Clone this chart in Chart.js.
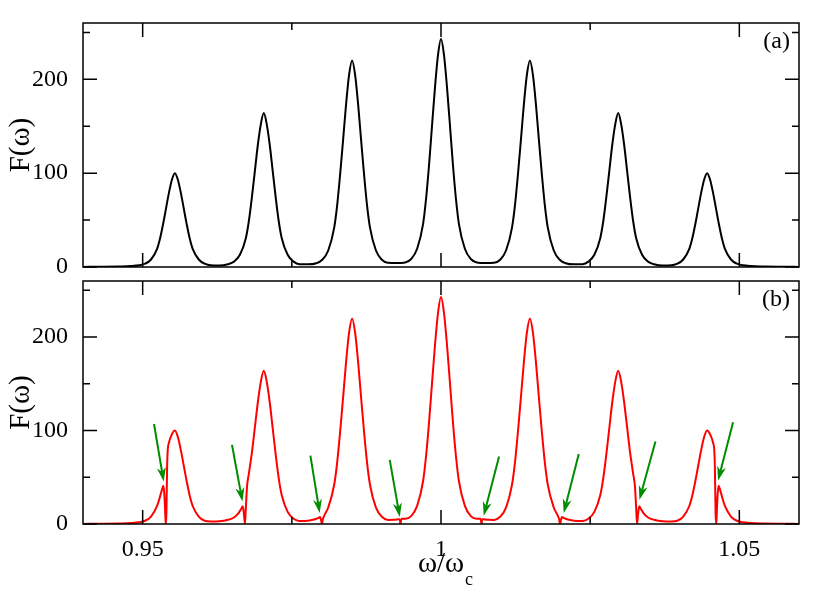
<!DOCTYPE html>
<html>
<head>
<meta charset="utf-8">
<script src="https://cdn.jsdelivr.net/npm/chart.js@4.4.0/dist/chart.umd.min.js"></script>
<style>
  body { margin: 0; background: #fff; }
  #wrap { position: relative; width: 830px; height: 597px; }
  #wrap canvas { position: absolute; left: 0; top: 0; }
</style>
</head>
<body>
<div id="wrap">
  <canvas id="panelA" width="830" height="597"></canvas>
  <canvas id="panelB" width="830" height="597"></canvas>
</div>
<script>
// panel (a): plain transmission, black curve
const omegaA = [
  0.940, 0.943, 0.946, 0.948,
  0.9494, 0.9504, 0.9514, 0.9524, 0.9529, 0.9534, 0.9539, 0.9544, 0.9549, 0.9554, 0.9559, 0.9564, 0.9569, 0.9574, 0.9579, 0.9584, 0.9594, 0.9604, 0.9614, 0.96285,
  0.9643, 0.9653, 0.9663, 0.9673, 0.9678, 0.9683, 0.9688, 0.9693, 0.9698, 0.9703, 0.9708, 0.9713, 0.9718, 0.9723, 0.9728, 0.9733, 0.9743, 0.9753, 0.9763, 0.9777,
  0.9791, 0.9801, 0.9811, 0.9821, 0.9826, 0.9831, 0.9836, 0.9841, 0.9846, 0.9851, 0.9856, 0.9861, 0.9866, 0.9871, 0.9876, 0.9881, 0.9891, 0.9901, 0.9911, 0.99255,
  0.9940, 0.9950, 0.9960, 0.9970, 0.9975, 0.9980, 0.9985, 0.9990, 0.9995, 1.0000, 1.0005, 1.0010, 1.0015, 1.0020, 1.0025, 1.0030, 1.0040, 1.0050, 1.0060, 1.00745,
  1.0089, 1.0099, 1.0109, 1.0119, 1.0124, 1.0129, 1.0134, 1.0139, 1.0144, 1.0149, 1.0154, 1.0159, 1.0164, 1.0169, 1.0174, 1.0179, 1.0189, 1.0199, 1.0209, 1.0223,
  1.0237, 1.0247, 1.0257, 1.0267, 1.0272, 1.0277, 1.0282, 1.0287, 1.0292, 1.0297, 1.0302, 1.0307, 1.0312, 1.0317, 1.0322, 1.0327, 1.0337, 1.0347, 1.0357, 1.03715,
  1.0386, 1.0396, 1.0406, 1.0416, 1.0421, 1.0426, 1.0431, 1.0436, 1.0441, 1.0446, 1.0451, 1.0456, 1.0461, 1.0466, 1.0471, 1.0476, 1.0486, 1.0496, 1.0506,
  1.052, 1.054, 1.057, 1.060
];
const fA = [
  0.1, 0.3, 0.6, 1.0,
  1.8, 3.5, 8, 19, 30, 45, 62, 79, 93, 100, 93, 79, 62, 45, 30, 19, 8, 3.5, 1.8, 1.6,
  3.0, 5.7, 13, 31, 49, 74, 102, 130, 152, 164, 152, 130, 102, 74, 49, 31, 13, 5.7, 3.0, 2.8,
  4.0, 7.7, 17.6, 42, 66, 99, 136, 174, 205, 220, 205, 174, 136, 99, 66, 42, 17.6, 7.7, 4.4, 4.2,
  4.8, 8.5, 19.4, 46, 73, 109, 151, 192, 226, 243, 226, 192, 151, 109, 73, 46, 19.4, 8.5, 4.8, 4.2,
  4.4, 7.7, 17.6, 42, 66, 99, 136, 174, 205, 220, 205, 174, 136, 99, 66, 42, 17.6, 7.7, 4.0, 2.8,
  3.0, 5.7, 13, 31, 49, 74, 102, 130, 152, 164, 152, 130, 102, 74, 49, 31, 13, 5.7, 3.0, 1.6,
  1.8, 3.5, 8, 19, 30, 45, 62, 79, 93, 100, 93, 79, 62, 45, 30, 19, 8, 3.5, 1.8,
  1.0, 0.6, 0.3, 0.1
];

// panel (b): red curve with the sharp dips
const omegaB = [
  0.940, 0.943, 0.946, 0.948,
  0.9494, 0.9504, 0.9514, 0.9524, 0.9529, 0.9532, 0.95348, 0.95365, 0.9538, 0.95388, 0.95398, 0.9541, 0.9542, 0.9544, 0.9549, 0.9554,
  0.9559, 0.9564, 0.9569, 0.9574, 0.9579, 0.9584, 0.9594, 0.9604, 0.9614, 0.96285,
  0.9643, 0.9653, 0.9661, 0.9665, 0.96678, 0.96698, 0.96714, 0.9673, 0.96749, 0.9678, 0.9683, 0.9688, 0.9693, 0.9698, 0.9703,
  0.9708, 0.9713, 0.9718, 0.9723, 0.9728, 0.9733, 0.9743, 0.9753, 0.9763, 0.9777,
  0.9787, 0.9794, 0.97975, 0.9799, 0.98006, 0.9802, 0.9804, 0.9811, 0.9821, 0.9826, 0.9831, 0.9836, 0.9841, 0.9846, 0.9851,
  0.9856, 0.9861, 0.9866, 0.9871, 0.9876, 0.9881, 0.9891, 0.9901, 0.9911, 0.9920, 0.9928, 0.99305, 0.99315, 0.9932, 0.99327, 0.9934,
  0.9940, 0.9950, 0.9960, 0.9970, 0.9975, 0.9980, 0.9985, 0.9990, 0.9995, 1.0000, 1.0005, 1.0010, 1.0015, 1.0020, 1.0025, 1.0030, 1.0040, 1.0050, 1.0060,
  1.0066, 1.00673, 1.0068, 1.00685, 1.00695, 1.0072, 1.0080, 1.0089, 1.0099, 1.0109, 1.0119, 1.0124, 1.0129, 1.0134, 1.0139, 1.0144, 1.0149,
  1.0154, 1.0159, 1.0164, 1.0169, 1.0174, 1.0179, 1.0189, 1.0196, 1.0198, 1.01994, 1.0201, 1.02025, 1.0206, 1.0213, 1.0223,
  1.0237, 1.0247, 1.0257, 1.0267, 1.0272, 1.0277, 1.0282, 1.0287, 1.0292, 1.0297, 1.0302, 1.0307, 1.0312, 1.0317, 1.0322, 1.03251, 1.0327, 1.03286, 1.03302, 1.03322,
  1.0335, 1.0339, 1.0347, 1.0357, 1.03715,
  1.0386, 1.0396, 1.0406, 1.0416, 1.0421, 1.0426, 1.0431, 1.0436, 1.0441, 1.0446, 1.0451, 1.0456, 1.0458, 1.0459, 1.04602, 1.04612, 1.0462, 1.04635, 1.04652, 1.0468,
  1.0471, 1.0476, 1.0486, 1.0496, 1.0506, 1.052, 1.054, 1.057, 1.060
];
const fB = [
  0.1, 0.3, 0.6, 1.0,
  1.8, 3.5, 8, 19, 29, 36, 41, 30, 9, 0, 12, 62, 79, 87, 96, 100,
  93, 79, 62, 45, 30, 19, 8, 3.5, 2.8, 3.0,
  4.5, 7, 12, 16, 19, 10, 0, 18, 40, 54, 76, 103, 130, 152, 164,
  152, 130, 102, 74, 49, 31, 13, 5.7, 3.3, 3.6,
  4.8, 6.2, 7.5, 4, 0, 5, 8.5, 17.6, 42, 66, 99, 136, 174, 205, 220,
  205, 174, 136, 99, 66, 42, 17.6, 7.7, 4.4, 4.5, 5.0, 5.2, 2.5, 0, 2.5, 5.5,
  5.6, 8.5, 19.4, 46, 73, 109, 151, 192, 226, 243, 226, 192, 151, 109, 73, 46, 19.4, 8.5, 5.6,
  5.5, 2.5, 0, 2.5, 5.2, 5.0, 4.5, 4.4, 7.7, 17.6, 42, 66, 99, 136, 174, 205, 220,
  205, 174, 136, 99, 66, 42, 17.6, 8.5, 5, 0, 4, 7.5, 6.2, 4.8, 3.6,
  3.3, 5.7, 13, 31, 49, 74, 102, 130, 152, 164, 152, 130, 103, 76, 54, 40, 18, 0, 10, 19,
  16, 12, 7, 4.5, 3.0,
  2.8, 3.5, 8, 19, 30, 45, 62, 79, 93, 100, 96, 87, 79, 62, 12, 0, 9, 30, 41, 36,
  29, 19, 8, 3.5, 1.8, 1.0, 0.6, 0.3, 0.1
];

// green arrows in panel (b): tail -> head, in data units
const arrowFromX = [0.9519, 0.96497, 0.97811, 0.99141, 1.00973, 1.02309, 1.03594, 1.04895];
const arrowFromY = [107, 84.6, 73.2, 68.6, 72.1, 75, 88.2, 108.9];
const arrowToX = [0.95353, 0.96672, 0.97967, 0.99309, 1.00716, 1.02057, 1.03326, 1.04644];
const arrowToY = [45.5, 24, 11.7, 7.5, 8.9, 11.7, 25.9, 46.5];

const xTickValues = [0.95, 0.975, 1, 1.025, 1.05];
const xTickLabels = ['0.95', '', '1', '', '1.05'];
const xMajor = [0.95, 1, 1.05];
const yTickValues = [0, 50, 100, 150, 200, 250];
const yTickLabels = ['0', '', '100', '', '200', ''];
const yMajor = [0, 100, 200];

const serif = '"Liberation Serif", "Times New Roman", serif';

const frame = {
  id: 'frame',
  afterDraw(chart, args, opts) {
    const {ctx, chartArea: a, scales: {x, y}} = chart;
    ctx.save();
    ctx.strokeStyle = '#000';
    ctx.lineWidth = 1.5;
    ctx.strokeRect(a.left, a.top, a.right - a.left, a.bottom - a.top);
    ctx.beginPath();
    xTickValues.forEach(v => {
      const px = x.getPixelForValue(v);
      const len = xMajor.includes(v) ? 14 : 7;
      ctx.moveTo(px, a.bottom); ctx.lineTo(px, a.bottom - len);
      ctx.moveTo(px, a.top); ctx.lineTo(px, a.top + len);
    });
    yTickValues.forEach(v => {
      const py = y.getPixelForValue(v);
      const len = yMajor.includes(v) ? 14 : 7;
      ctx.moveTo(a.left, py); ctx.lineTo(a.left + len, py);
      ctx.moveTo(a.right, py); ctx.lineTo(a.right - len, py);
    });
    ctx.stroke();
    ctx.fillStyle = '#000';
    ctx.font = '24px ' + serif;
    ctx.textAlign = 'right';
    ctx.textBaseline = 'middle';
    ctx.fillText(opts.label, a.right - 9, a.top + 19);
    ctx.restore();
  }
};

const arrows = {
  id: 'arrows',
  afterDatasetsDraw(chart, args, opts) {
    if (!opts.show) return;
    const {ctx, scales: {x, y}} = chart;
    ctx.save();
    ctx.strokeStyle = '#008c00';
    ctx.fillStyle = '#008c00';
    ctx.lineWidth = 2;
    arrowFromX.forEach((fx, i) => {
      const x0 = x.getPixelForValue(fx), y0 = y.getPixelForValue(arrowFromY[i]);
      const x1 = x.getPixelForValue(arrowToX[i]), y1 = y.getPixelForValue(arrowToY[i]);
      const len = Math.hypot(x1 - x0, y1 - y0);
      const ux = (x1 - x0) / len, uy = (y1 - y0) / len;
      const L = 14, W = 4.5;
      ctx.beginPath();
      ctx.moveTo(x0, y0);
      ctx.lineTo(x1 - ux * L * 0.7, y1 - uy * L * 0.7);
      ctx.stroke();
      ctx.beginPath();
      ctx.moveTo(x1, y1);
      ctx.lineTo(x1 - ux * L - uy * W, y1 - uy * L + ux * W);
      ctx.lineTo(x1 - ux * L * 0.7, y1 - uy * L * 0.7);
      ctx.lineTo(x1 - ux * L + uy * W, y1 - uy * L - ux * W);
      ctx.closePath();
      ctx.fill();
    });
    ctx.restore();
  }
};

const xTitle = {
  id: 'xTitle',
  afterDraw(chart, args, opts) {
    if (!opts.show) return;
    const {ctx, chartArea: a} = chart;
    ctx.save();
    ctx.fillStyle = '#000';
    ctx.textAlign = 'left';
    ctx.textBaseline = 'alphabetic';
    ctx.font = '29px ' + serif;
    const w1 = ctx.measureText('ω/ω').width;
    ctx.font = '18px ' + serif;
    const w2 = ctx.measureText('c').width;
    const x0 = (a.left + a.right) / 2 + 4 - (w1 + w2) / 2;
    ctx.font = '29px ' + serif;
    ctx.fillText('ω/ω', x0, 572);
    ctx.font = '18px ' + serif;
    ctx.fillText('c', x0 + w1 + 1, 585);
    ctx.restore();
  }
};

function panel(id, xs, ys, color, top, xHeight, showX, label) {
  return new Chart(document.getElementById(id), {
    type: 'line',
    data: {
      datasets: [{
        data: xs.map((w, i) => ({x: w, y: ys[i]})),
        borderColor: color,
        borderWidth: 2,
        pointRadius: 0,
        cubicInterpolationMode: 'monotone',
        fill: false
      }]
    },
    options: {
      responsive: false,
      animation: false,
      devicePixelRatio: 1,
      layout: { padding: { top: top, right: 31, bottom: 0, left: 0 } },
      plugins: {
        legend: { display: false },
        tooltip: { enabled: false },
        frame: { label: label },
        arrows: { show: showX },
        xTitle: { show: showX }
      },
      scales: {
        x: {
          type: 'linear',
          min: 0.94,
          max: 1.06,
          grid: { display: false },
          border: { display: false },
          afterBuildTicks: s => { s.ticks = xTickValues.map(v => ({value: v})); },
          afterFit: s => { s.height = xHeight; },
          ticks: {
            display: showX,
            autoSkip: false,
            maxRotation: 0,
            padding: 3,
            color: '#000',
            font: { family: serif, size: 24 },
            callback: (v, i) => xTickLabels[i]
          }
        },
        y: {
          min: 0,
          max: 260,
          grid: { display: false },
          border: { display: false },
          afterBuildTicks: s => { s.ticks = yTickValues.map(v => ({value: v})); },
          afterFit: s => { s.width = 83; },
          ticks: {
            autoSkip: false,
            padding: 7,
            color: '#000',
            font: { family: serif, size: 24 },
            callback: (v, i) => yTickLabels[i]
          },
          title: {
            display: true,
            text: 'F(ω)',
            color: '#000',
            font: { family: serif, size: 29 },
            padding: { top: 4, bottom: 0 }
          }
        }
      }
    },
    plugins: [frame, arrows, xTitle]
  });
}

panel('panelA', omegaA, fA, '#000000', 23, 330, false, '(a)');
panel('panelB', omegaB, fB, '#ff0000', 281, 73, true, '(b)');
</script>
</body>
</html>
